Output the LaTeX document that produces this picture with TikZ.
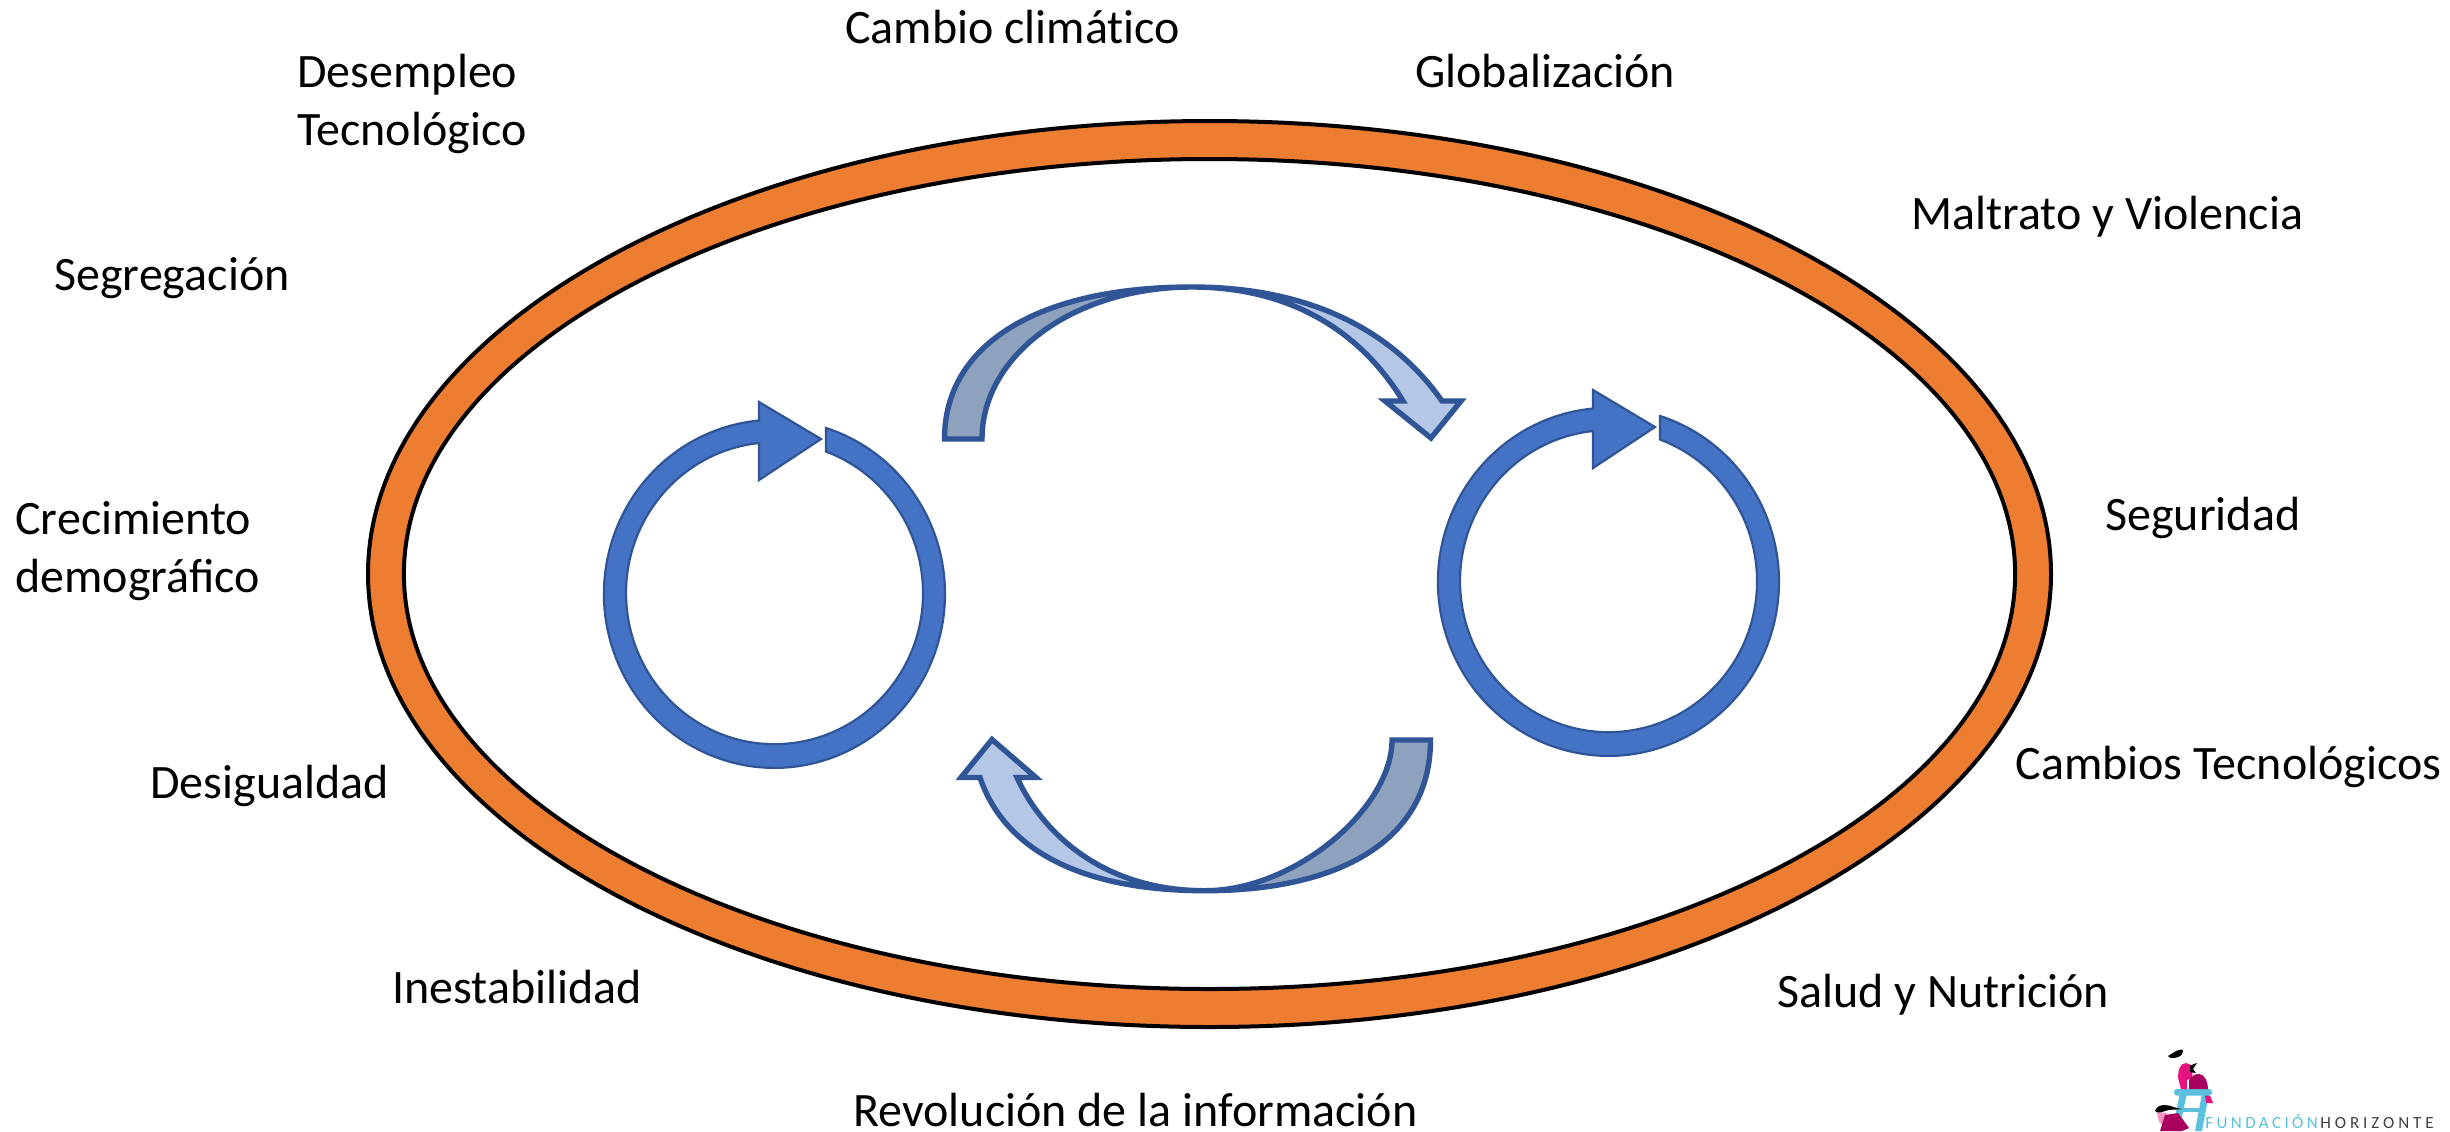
\documentclass[tikz,border=0pt]{standalone}
\usepackage{fontspec}
\setmainfont{Carlito}
\newfontfamily\logofonta[LetterSpace=20]{Carlito}
\newfontfamily\logofontb[LetterSpace=23]{Carlito}
\definecolor{ringorange}{HTML}{ED7D31}
\definecolor{ringblue}{HTML}{4472C4}
\definecolor{edgeblue}{HTML}{2F5597}
\definecolor{darkfold}{HTML}{8FA2BD}
\definecolor{lightfold}{HTML}{B4C7E7}
\definecolor{logocyan}{HTML}{5BC0DE}
\definecolor{logopink}{HTML}{E6127F}
\definecolor{logodeep}{HTML}{A8005F}
\tikzset{
  lab/.style={anchor=base west,inner sep=0pt,font=\fontsize{24}{29}\selectfont,align=left},
  bigring/.style={draw=black,line width=2pt},
  ringline/.style={draw=edgeblue,fill=ringblue,line width=1.1pt,line join=miter},
  foldline/.style={draw=edgeblue,line width=2.7pt,line join=miter},
  ringarrow/.pic={
    \path[ringline] (826,428)
      arc[start angle=287.6,end angle=624.8,x radius=170.5,y radius=174]
      -- (759,402) -- (821,439) -- (759,480) -- (759,443)
      arc[start angle=624,end angle=290.3,x radius=148.5,y radius=151] -- cycle;
  }
}
\begin{document}
\begin{tikzpicture}[x=0.5pt,y=-0.5pt]
\useasboundingbox (0,0) rectangle (2450,1131);
% big ring
\draw[bigring,fill=ringorange] (1209.5,574) ellipse [x radius=841.5,y radius=453];
\draw[bigring,fill=white] (1209.5,574) ellipse [x radius=805.6,y radius=415];
% small rings
\pic at (0,0) {ringarrow};
\pic at (834,-12) {ringarrow};
% top curved arrow
\fill[darkfold] (944.5,439) .. controls (944.5,343) and (1040,287) .. (1192,287)
   .. controls (1074,287) and (982,355) .. (982,439) -- cycle;
\fill[lightfold] (1192,287) .. controls (1300,287) and (1388,324) .. (1442,401)
   -- (1461,401) -- (1431,438) -- (1385,401) -- (1403,401)
   .. controls (1358,327) and (1285,287) .. (1192,287) -- cycle;
\draw[foldline] (944.5,439) .. controls (944.5,343) and (1040,287) .. (1192,287)
   .. controls (1300,287) and (1388,324) .. (1442,401)
   -- (1461,401) -- (1431,438) -- (1385,401) -- (1403,401)
   .. controls (1358,327) and (1285,287) .. (1192,287)
   .. controls (1074,287) and (982,355) .. (982,439) -- cycle;
% bottom curved arrow
\fill[darkfold] (1430.5,740) .. controls (1430.5,840) and (1340,890.7) .. (1205,890.7)
   .. controls (1295,890.7) and (1392,808) .. (1392,740) -- cycle;
\fill[lightfold] (1205,890.7) .. controls (1085,890.7) and (1005,852) .. (980,777.5)
   -- (961,777.5) -- (992,739.5) -- (1036,777.5) -- (1017,777.5)
   .. controls (1041,830) and (1100,890.7) .. (1205,890.7) -- cycle;
\draw[foldline] (1430.5,740) .. controls (1430.5,840) and (1340,890.7) .. (1205,890.7)
   .. controls (1085,890.7) and (1005,852) .. (980,777.5)
   -- (961,777.5) -- (992,739.5) -- (1036,777.5) -- (1017,777.5)
   .. controls (1041,830) and (1100,890.7) .. (1205,890.7)
   .. controls (1295,890.7) and (1392,808) .. (1392,740) -- cycle;
% labels
\node[lab] (cambio) at (845,43.5) {Cambio climát{\kern0pt}ico};
\node[lab] (desempleo) at (297,145) {Desempleo\\Tecnológico};
\node[lab] (global) at (1415,87.5) {Globalización};
\node[lab] (maltrato) at (1911,229) {Maltrato y Violencia};
\node[lab] (segreg) at (54,290) {Segregación};
\node[lab] (segur) at (2105,530.5) {Seguridad};
\node[lab] (crec) at (15,592) {Crecimiento\\demográfico};
\node[lab] (camtec) at (2015,779) {Cambios Tecnológicos};
\node[lab] (desig) at (150,798) {Desigualdad};
\node[lab] (inest) at (392,1003) {Inestabilidad};
\node[lab] (salud) at (1777,1007) {Salud y Nutrición};
\node[lab] (revol) at (853,1126) {Revolución de la información};
% logo
\fill[logocyan] (2180,1093) -- (2187,1093) -- (2179,1131) -- (2172,1131) -- cycle;
\fill[logocyan] (2202,1093) -- (2209,1093) -- (2202,1131) -- (2195,1131) -- cycle;
\fill[logocyan] (2181,1108) rectangle (2203,1112);
\fill[logocyan,rounded corners=1.5pt] (2174,1089) rectangle (2212,1095.5);
\fill[logopink] (2178,1078) to[out=90,in=180] (2186,1063) to[out=0,in=120] (2193,1068) -- (2192,1078) -- (2187,1080) -- (2187,1089) -- (2181,1089) -- cycle;
\fill[logodeep] (2189,1080) to[out=50,in=180] (2198,1074) to[out=0,in=90] (2208,1089) -- (2189,1089) -- cycle;
\fill[logopink] (2205,1095.5) -- (2210,1095.5) -- (2213,1103) -- (2206,1103) -- cycle;
\fill[black] (2168,1056) to[out=-60,in=180] (2172,1058) to[out=0,in=-90] (2183,1051) to[out=90,in=20] (2176,1051) -- cycle;
\fill[black] (2190,1066) to[out=20,in=180] (2197,1063) -- (2193,1069) -- (2196,1073) -- (2190,1072) -- cycle;
\fill[logopink!45] (2157,1112) -- (2167,1113) -- (2168,1128) -- (2159,1122) -- cycle;
\fill[logodeep] (2165,1115) -- (2178,1113) -- (2189,1128) -- (2182,1131) -- (2160,1131) -- cycle;
\fill[black] (2155,1111) to[out=70,in=180] (2164,1105) to[out=0,in=175] (2182,1109) to[out=190,in=20] (2165,1111) to[out=200,in=-40] cycle;
\node[anchor=base west,inner sep=0pt,font=\logofonta\fontsize{8.5}{10}\selectfont,text=logocyan] (fund) at (2205,1128) {FUNDACIÓN};
\node[anchor=base west,inner sep=0pt,font=\logofontb\fontsize{8.5}{10}\selectfont,text=black!75] (hori) at (2320,1128) {HORIZONTE};
\end{tikzpicture}
\end{document}
